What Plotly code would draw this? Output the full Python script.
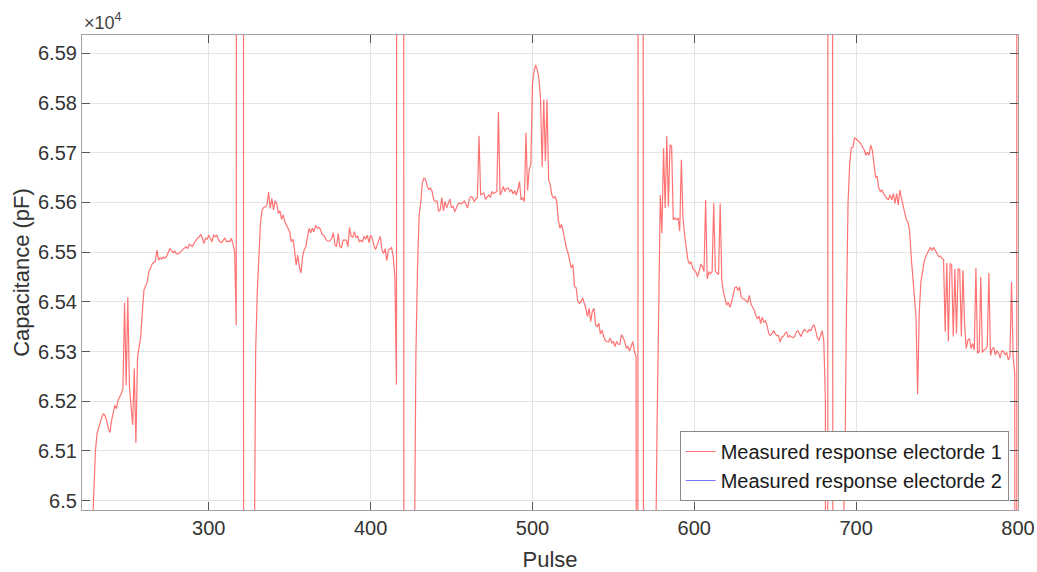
import plotly.graph_objects as go

# Saturated readings recorded while the electrode was re-seated
OVER = 75000
UNDER = 56000

pulse = [222, 224, 226, 228, *range(229, 318),
         318, 321, 322, *range(327, 417),
         417, 420, 421, *range(426, 567),
         567, 570, 571, *range(576, 683),
         683, 684, 687, 688, *range(693, 800),
         799.5, 800]

run_a = [63900, 64300, 64650, 64930,
         65040, 65100, 65135, 65150, 65158, 65168, 65175, 65170, 65160, 65145,
         65137, 65162, 65180, 65192, 65185, 65202, 65209, 65215, 65226, 65398,
         65232, 65409, 65229, 65180, 65152, 65266, 65116, 65289, 65310, 65330,
         65380, 65424, 65432, 65440, 65460, 65470, 65476, 65479, 65481, 65504,
         65484, 65489, 65486, 65490, 65488, 65492, 65498, 65507, 65503, 65499,
         65502, 65497, 65496, 65499, 65501, 65505, 65509, 65511, 65507, 65516,
         65513, 65512, 65518, 65523, 65528, 65530, 65536, 65529, 65517, 65528,
         65526, 65534, 65527, 65521, 65534, 65531, 65534, 65525, 65521, 65519,
         65524, 65528, 65521, 65522, 65521, 65528, 65516, 65501, 65353]

run_b = [64300, 64880, 65300, 65420, 65484, 65560, 65585, 65590, 65591, 65595,
         65621, 65588, 65608, 65585, 65603, 65598, 65578, 65583, 65566, 65575,
         65561, 65554, 65548, 65541, 65521, 65526, 65504, 65474, 65494, 65470,
         65458, 65491, 65505, 65511, 65530, 65548, 65539, 65548, 65541, 65554,
         65548, 65550, 65546, 65536, 65534, 65528, 65523, 65522, 65523, 65528,
         65539, 65514, 65512, 65538, 65511, 65509, 65524, 65524, 65524, 65511,
         65550, 65532, 65530, 65541, 65530, 65532, 65521, 65524, 65521, 65532,
         65526, 65534, 65519, 65534, 65528, 65515, 65505, 65514, 65524, 65532,
         65505, 65497, 65507, 65483, 65504, 65507, 65509, 65491, 65450, 65233]

run_c = [64400, 64950, 65293, 65470, 65575, 65600, 65640, 65649, 65646, 65632,
         65626, 65629, 65622, 65605, 65602, 65603, 65582, 65585, 65610, 65583,
         65602, 65589, 65599, 65607, 65589, 65592, 65581, 65589, 65597, 65599,
         65597, 65600, 65603, 65596, 65589, 65607, 65612, 65610, 65602, 65606,
         65610, 65734, 65615, 65617, 65619, 65606, 65610, 65615, 65610, 65622,
         65618, 65621, 65622, 65782, 65615, 65622, 65632, 65622, 65628, 65629,
         65622, 65626, 65617, 65624, 65615, 65626, 65642, 65605, 65609, 65602,
         65740, 65624, 65666, 65677, 65837, 65864, 65877, 65867, 65850, 65810,
         65672, 65807, 65683, 65807, 65645, 65636, 65615, 65609, 65612, 65602,
         65565, 65548, 65556, 65542, 65522, 65508, 65498, 65485, 65468, 65475,
         65431, 65428, 65401, 65397, 65400, 65408, 65397, 65387, 65370, 65387,
         65360, 65381, 65387, 65354, 65350, 65357, 65335, 65343, 65330, 65322,
         65320, 65319, 65327, 65317, 65320, 65310, 65320, 65315, 65314, 65334,
         65328, 65320, 65307, 65310, 65301, 65313, 65320, 65300, 65290, 63000]

run_d = [64300, 64850, 65150, 65420, 65615, 65538, 65709, 65589, 65733, 65592,
         65716, 65713, 65565, 65569, 65565, 65569, 65542, 65686, 65569, 65535,
         65508, 65485, 65476, 65481, 65468, 65465, 65460, 65451, 65461, 65476,
         65471, 65461, 65605, 65446, 65461, 65456, 65461, 65599, 65462, 65458,
         65455, 65598, 65443, 65420, 65405, 65393, 65399, 65389, 65399, 65412,
         65428, 65430, 65423, 65430, 65409, 65406, 65405, 65402, 65399, 65413,
         65396, 65389, 65384, 65373, 65366, 65371, 65356, 65369, 65359, 65362,
         65352, 65336, 65332, 65336, 65342, 65336, 65332, 65332, 65319, 65329,
         65330, 65336, 65339, 65329, 65332, 65329, 65328, 65330, 65339, 65342,
         65336, 65330, 65339, 65344, 65342, 65339, 65344, 65342, 65350, 65354,
         65342, 65328, 65322, 65332, 65342, 65322, 65201]

run_e = [64500, 65050, 65380, 65600, 65678, 65710, 65711, 65730, 65728, 65725,
         65721, 65718, 65711, 65706, 65695, 65701, 65695, 65715, 65705, 65671,
         65651, 65652, 65628, 65622, 65625, 65617, 65612, 65608, 65606, 65615,
         65605, 65618, 65598, 65618, 65595, 65625, 65608, 65595, 65581, 65565,
         65560, 65544, 65491, 65444, 65397, 65369, 65214, 65380, 65440, 65464,
         65480, 65492, 65499, 65504, 65509, 65504, 65509, 65502, 65496, 65491,
         65492, 65487, 65484, 65340, 65478, 65320, 65477, 65474, 65330, 65466,
         65336, 65467, 65465, 65330, 65464, 65356, 65306, 65323, 65326, 65306,
         65316, 65303, 65468, 65296, 65300, 65450, 65298, 65303, 65305, 65310,
         65458, 65292, 65305, 65308, 65293, 65301, 65297, 65287, 65301, 65300,
         65293, 65298, 65283, 65290, 65440, 65289, 65256]

capacitance_e1 = (run_a + [OVER, OVER, UNDER] + run_b + [OVER, OVER, UNDER]
                  + run_c + [OVER, OVER, UNDER] + run_d
                  + [UNDER, OVER, OVER, UNDER] + run_e + [UNDER, OVER])

# Electrode 2 gave no valid readings in this window
pulse_e2 = [None]
capacitance_e2 = [None]

y_ticks = [65000, 65100, 65200, 65300, 65400, 65500, 65600, 65700, 65800, 65900]
y_tick_text = ["6.5", "6.51", "6.52", "6.53", "6.54", "6.55", "6.56", "6.57", "6.58", "6.59"]
x_ticks = [300, 400, 500, 600, 700, 800]

FONT = "Liberation Sans, Arial, sans-serif"

fig = go.Figure()
fig.add_trace(go.Scatter(
    x=pulse, y=capacitance_e1, mode="lines",
    name="Measured response electorde 1",
    line=dict(color="rgba(255,0,0,0.55)", width=1.2),
))
fig.add_trace(go.Scatter(
    x=pulse_e2, y=capacitance_e2, mode="lines",
    name="Measured response electorde 2",
    line=dict(color="rgba(0,0,255,0.55)", width=1.2),
))

axis_common = dict(
    showline=True, linecolor="#a0a0a0", linewidth=1.2, mirror="ticks",
    ticks="inside", ticklen=8, tickcolor="#555555", tickwidth=1,
    showgrid=True, gridcolor="#e4e4e4", gridwidth=1, zeroline=False,
    automargin=False,
    tickfont=dict(family=FONT, size=20, color="#333333"),
)

fig.update_layout(
    width=1037, height=572,
    margin=dict(l=82, r=19, t=35, b=62, autoexpand=False),
    paper_bgcolor="white", plot_bgcolor="white",
    font=dict(family=FONT, color="#262626"),
    showlegend=True,
    xaxis=dict(range=[221.7, 800], tickvals=x_ticks,
               title=dict(text="Pulse", font=dict(family=FONT, size=22, color="#333333"), standoff=14),
               **axis_common),
    yaxis=dict(range=[64981, 65937], tickvals=y_ticks, ticktext=y_tick_text,
               title=dict(text="Capacitance (pF)", font=dict(family=FONT, size=22, color="#333333"), standoff=2),
               **axis_common),
    legend=dict(x=0.99, y=0.019, xanchor="right", yanchor="bottom",
                bgcolor="white", bordercolor="#8a8a8a", borderwidth=1,
                font=dict(family=FONT, size=20, color="#1a1a1a")),
    annotations=[dict(text="×10<sup>4</sup>", xref="paper", yref="paper", x=0, y=1,
                      xanchor="left", yanchor="bottom", showarrow=False,
                      font=dict(family=FONT, size=18, color="#444444"))],
)

fig.write_html("out.html")
